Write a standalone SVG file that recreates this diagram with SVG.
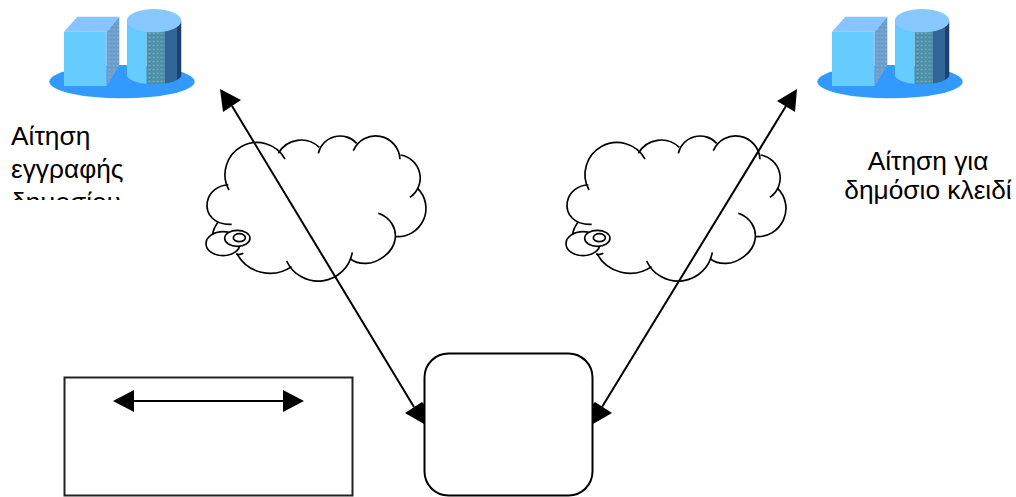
<svg xmlns="http://www.w3.org/2000/svg" width="1016" height="497" viewBox="0 0 1016 497">
<style>
text{font-family:"Liberation Sans",Arial,sans-serif;font-size:26.3px;fill:#000}
.ln{fill:none;stroke:#000;stroke-width:2}
.cl{fill:none;stroke:#000;stroke-width:5}
.hd{fill:#000;stroke:none}
</style>
<defs>
<clipPath id="clipText"><rect x="0" y="120" width="150" height="80"/></clipPath>
<clipPath id="cylBody"><path d="M380 62V225C390 262 535 262 545 225V62Z"/></clipPath>
<pattern id="dotsA" width="12" height="12" patternUnits="userSpaceOnUse"><rect width="12" height="12" fill="#6a9ccc"/><rect x="2" y="2" width="6" height="5" fill="#84acd4"/></pattern>
<pattern id="dotsB" width="12" height="12" patternUnits="userSpaceOnUse"><rect width="12" height="12" fill="#4a8fa8"/><rect x="2" y="2" width="6" height="5" fill="#78a8c0"/></pattern>
<filter id="soft" x="-5%" y="-5%" width="110%" height="110%"><feGaussianBlur stdDeviation="2"/></filter>
<g id="server" transform="scale(.3333)" filter="url(#soft)">
<ellipse cx="366" cy="245" rx="218" ry="50" fill="#3399ff"/>
<path d="M192 95L232 50H358L320 95Z" fill="#88c4ff"/>
<path d="M192 95H320V258H192Z" fill="#66ccff"/>
<path d="M320 95L358 50V195L320 258Z" fill="url(#dotsA)"/>
<g clip-path="url(#cylBody)">
<rect x="380" y="62" width="60" height="200" fill="#66ccff"/>
<rect x="440" y="62" width="55" height="200" fill="url(#dotsB)"/>
<rect x="495" y="62" width="36" height="200" fill="#336699"/>
<rect x="531" y="62" width="14" height="200" fill="#1f3f70"/>
</g>
<ellipse cx="462" cy="62" rx="82" ry="35" fill="#88c8ff"/>
</g>
<g id="cloud" transform="scale(.3333)" class="cl">
<path d="M117 210A93 93 0 0 1 285 117"/>
<path d="M265 100A79 79 0 0 1 388 82"/>
<path d="M385 100A67 67 0 0 1 500 70"/>
<path d="M490 92A73 73 0 0 1 630 118"/>
<path d="M632 105A70 70 0 0 1 660 232"/>
<path d="M683 205A85 85 0 0 1 618 350"/>
<path d="M565 280C600 292 622 325 615 360C608 400 560 432 525 430C505 430 490 425 480 415"/>
<path d="M487 397A104 104 0 0 1 290 423"/>
<path d="M305 440A114 114 0 0 1 140 400"/>
<path d="M160 400C150 405 145 405 138 402"/>
<path d="M125 313C75 315 45 285 52 245C58 215 85 195 115 195"/>
<path d="M85 305C75 318 70 328 68 342"/>
<ellipse cx="99" cy="371" rx="51" ry="36"/>
<ellipse cx="142" cy="355" rx="38" ry="24" fill="#fff"/>
<ellipse cx="148" cy="353" rx="18" ry="12"/>
</g>
</defs>
<g id="server-left"><use href="#server"/></g>
<g id="server-right"><use href="#server" transform="translate(768 0)"/></g>
<g id="label-left" clip-path="url(#clipText)">
<text x="11" y="145">Αίτηση</text>
<text x="11" y="178">εγγραφής</text>
<text x="11" y="211">δημοσίου</text>
</g>
<g id="label-right">
<text x="928" y="170" text-anchor="middle">Αίτηση για</text>
<text x="928" y="199" text-anchor="middle">δημόσιο κλειδί</text>
</g>
<g id="cloud-left"><use href="#cloud" transform="translate(190 120)"/></g>
<g id="cloud-right"><use href="#cloud" transform="translate(550 120)"/></g>
<g id="box-left"><rect x="64.5" y="377.5" width="288" height="118" fill="none" stroke="#222" stroke-width="2"/></g>
<g id="box-center"><rect x="424.5" y="353.5" width="168" height="142" rx="24" ry="24" fill="#fff" stroke="#000" stroke-width="2"/></g>
<g id="connectors">
<path class="ln" d="M232 106L414 407"/>
<path class="hd" d="M220 89L223 112L241 100Z"/>
<path class="hd" d="M424 424L405 413L422 402L424 404Z"/>
<path class="ln" d="M786 106L602 407"/>
<path class="hd" d="M797 89L795 112L777 101Z"/>
<path class="hd" d="M593 424V404L595 402L612 413Z"/>
<path class="ln" d="M130 401H285"/>
<path class="hd" d="M113 401L134 390V412Z"/>
<path class="hd" d="M304 401L283 390V412Z"/>
</g>
</svg>
